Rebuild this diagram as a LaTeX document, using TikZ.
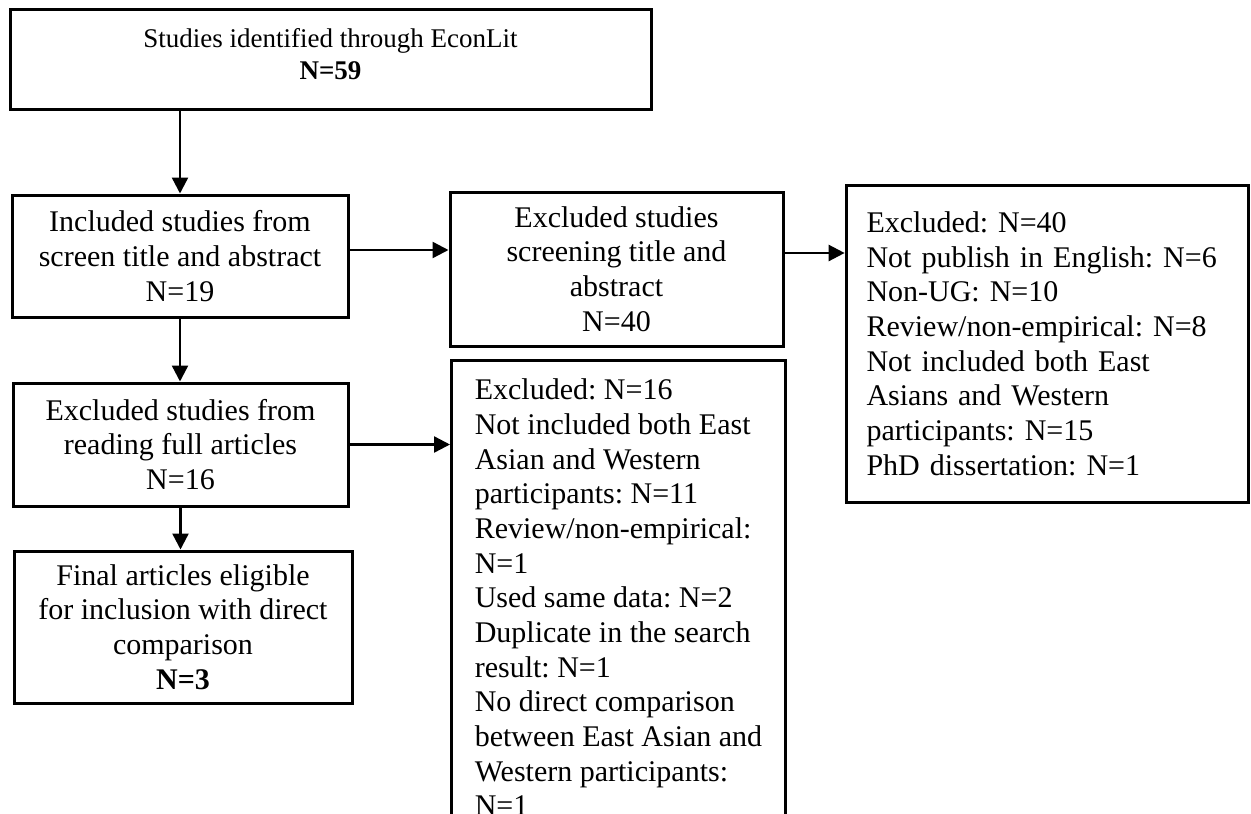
\documentclass[tikz,border=0pt]{standalone}
\usepackage{fontspec}
\setmainfont{Liberation Serif}
\frenchspacing
\usetikzlibrary{arrows.meta, calc, positioning}

\begin{document}
\begin{tikzpicture}[
      x=0.75pt,
      y=-0.75pt,
      box/.style={
        draw=black,
        line width=2.25pt,
        align=center,
        inner sep=0pt,
        font=\fontsize{22.5}{26}\selectfont
      },
      listbox/.style={
        box,
        align=left,
        inner ysep=0pt
      },
      arrow/.style={
        -{Triangle[length=12pt,width=12pt]},
        line width=1.8pt
      }
  ]

    \useasboundingbox (0,0) rectangle (1251,813);
    \clip (0,0) rectangle (1251,813);

    % Boxes in the left column
    \node[
      box,
      minimum width=480.75pt,
      minimum height=75pt,
      font=\fontsize{20.25}{24}\selectfont
    ] (ident) at (330.5,60) {
      Studies identified through EconLit\\
      \textbf{N=59}\rule[-9pt]{0pt}{0pt}
    };

    \node[box, minimum width=252pt, minimum height=91.5pt] (incl) at (180,256) {
      Included studies from\\
      screen title and abstract\\
      N=19
    };

    \node[box, minimum width=251.25pt, minimum height=92.25pt] (full) at (180.5,444.5) {
      Excluded studies from\\
      reading full articles\\
      N=16
    };

    \node[box, minimum width=253.5pt, minimum height=114pt] (final) at (183,627) {
      Final articles eligible\\
      for inclusion with direct\\
      comparison\\
      \textbf{N=3}
    };

    % Exclusion boxes
    \node[box, minimum width=249.75pt, minimum height=115.5pt] (excl) at (616.5,269) {
      Excluded studies\\
      screening title and\\
      abstract\\
      N=40
    };

    \node[
      listbox,
      text width=271.5pt,
      minimum width=302pt,
      minimum height=237.75pt
    ] (exlist) at (1047.5,343.5) {
      Excluded: N=40\\
      Not publish in English: N=6\\
      Non-UG: N=10\\
      Review/non-empirical: N=8\\
      Not included both East\\
      Asians and Western\\
      participants: N=15\\
      PhD dissertation: N=1
    };

    \node[
      listbox,
      anchor=north west,
      minimum width=250.5pt,
      inner ysep=14pt
    ] (fulllist) at (450,359) {
      Excluded: N=16\\
      Not included both East\\
      Asian and Western\\
      participants: N=11\\
      Review/non-empirical:\\
      N=1\\
      Used same data: N=2\\
      Duplicate in the search\\
      result: N=1\\
      No direct comparison\\
      between East Asian and\\
      Western participants:\\
      N=1
    };

    % Connectors
    \draw[arrow] (ident.south -| incl.north) -- (incl.north);
    \draw[arrow] ([yshift=4.5pt]incl.east) -- ([yshift=4.5pt]incl.east -| excl.west);
    \draw[arrow] ([yshift=12pt]excl.east) -- ([yshift=12pt]excl.east -| exlist.west);
    \draw[arrow] (incl.south) -- (incl.south |- full.north);
    \draw[arrow] (full.south) -- (full.south |- final.north);
    \draw[arrow] (full.east) -- (full.east -| fulllist.west);

  \end{tikzpicture}
\end{document}
